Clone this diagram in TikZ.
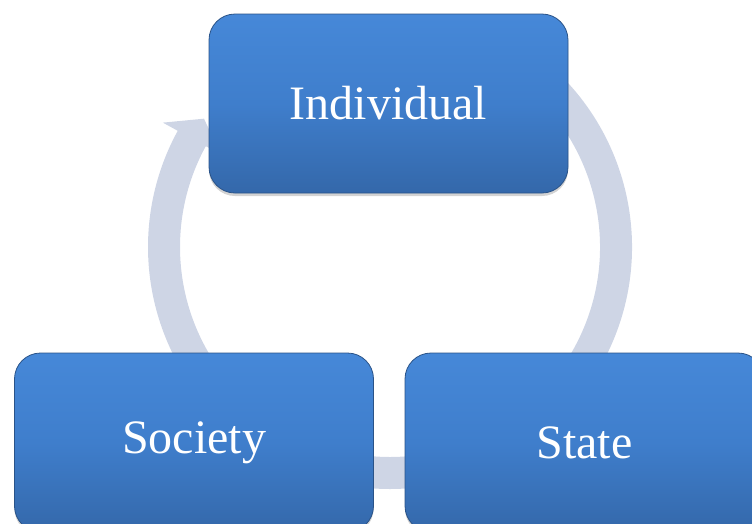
\documentclass[tikz,border=0pt]{standalone}
\usepackage{fontspec}
\setmainfont{Liberation Serif}
\usetikzlibrary{shadows,calc}
\definecolor{ringcol}{RGB}{206,213,229}
\definecolor{boxtop}{RGB}{70,136,216}
\definecolor{boxmid}{RGB}{63,126,204}
\definecolor{boxbot}{RGB}{52,104,170}
\tikzset{
  cyclebox/.style={rectangle, rounded corners=26pt, minimum width=359pt,
    minimum height=179pt, inner sep=0pt,
    top color=boxtop, bottom color=boxbot, middle color=boxmid,
    draw=boxbot!80!black, line width=0.8pt,
    text=white, font=\fontsize{48}{58}\selectfont,
    drop shadow={opacity=0.35, shadow xshift=0pt, shadow yshift=-3pt}},
  ringseg/.style={draw=ringcol, line width=32pt},
  ringhead/.style={fill=ringcol, draw=none}
}
\begin{document}
\begin{tikzpicture}[x=1pt,y=-1pt]
\clip (0,0) rectangle (752,523);
\coordinate (c) at (390,247);
% ring segments of the cycle
\draw[ringseg] ($(c)+(-60:226)$) arc[start angle=-60, end angle=60, radius=226];
\draw[ringseg] ($(c)+(70:226)$) arc[start angle=70, end angle=110, radius=226];
\draw[ringseg] ($(c)+(140:226)$) arc[start angle=140, end angle=209.2, radius=226];
\coordinate (hb1) at ($(c)+(208.7:259)$);
\coordinate (htip) at ($(c)+(214.6:226)$);
\coordinate (hb2) at ($(c)+(208.7:193)$);
\fill[ringhead] (hb1) -- (htip) -- (hb2) -- cycle;
% boxes
\node[cyclebox] (ind) at (388.5,103.5) {Individual};
\node[cyclebox] (soc) at (194,442.5) {Society};
\node[cyclebox] (sta) at (584.5,442.5) {State};
\end{tikzpicture}
\end{document}
